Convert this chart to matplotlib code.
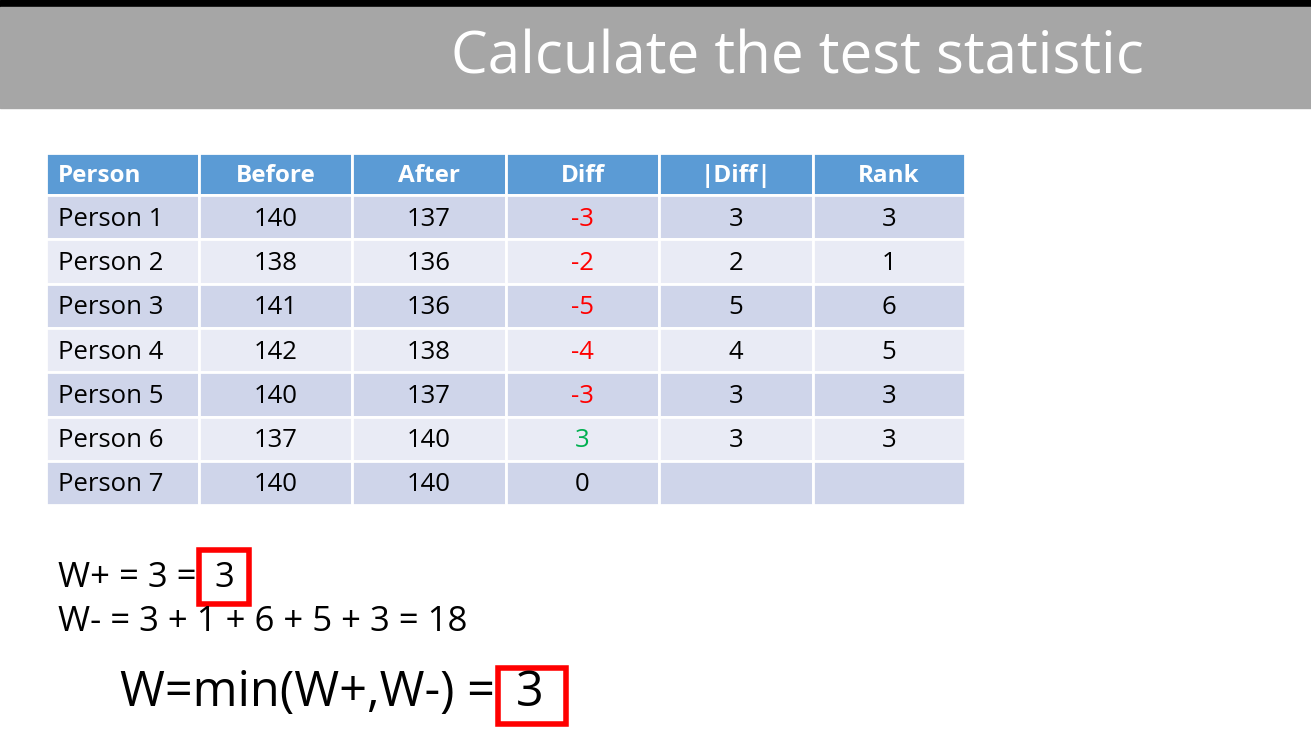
import matplotlib
matplotlib.use("Agg")
import matplotlib.pyplot as plt
from matplotlib.patches import Rectangle

headers = ["Person", "Before", "After", "Diff", "|Diff|", "Rank"]
persons = ["Person 1", "Person 2", "Person 3", "Person 4", "Person 5", "Person 6", "Person 7"]
before = [140, 138, 141, 142, 140, 137, 140]
after = [137, 136, 136, 138, 137, 140, 140]
diff = [-3, -2, -5, -4, -3, 3, 0]
absdiff = ["3", "2", "5", "4", "3", "3", ""]
rank = ["3", "1", "6", "5", "3", "3", ""]
title = "Calculate the test statistic"
line1 = "W+ = 3 ="
line2 = "W- = 3 + 1 + 6 + 5 + 3 = 18"
line3 = "W=min(W+,W-) ="
boxed = "3"

plt.rcParams['font.family'] = ['Open Sans', 'DejaVu Sans']
fig = plt.figure(figsize=(13.11, 7.33), dpi=100)
ax = fig.add_axes([0, 0, 1, 1])
ax.set_xlim(0, 1311); ax.set_ylim(733, 0); ax.axis('off')

ax.add_patch(Rectangle((0, 0), 1311, 7, color='black'))
ax.add_patch(Rectangle((0, 7), 1311, 101, color='#A6A6A6'))
ax.text(797, 58, title, color='white', fontsize=42, ha='center', va='center')

xs = [46, 199, 352, 506, 659, 813, 965]
y0, hh, rh = 153, 42, 44.3
for j, h in enumerate(headers):
    ax.add_patch(Rectangle((xs[j], y0), xs[j+1]-xs[j], hh, facecolor='#5B9BD5', edgecolor='white', lw=2))
    x = xs[j] + 12 if j == 0 else (xs[j]+xs[j+1])/2
    ax.text(x, y0+hh/2+2, h, color='white', fontsize=17.5, fontweight='bold',
            ha='left' if j == 0 else 'center', va='center')
for i in range(len(persons)):
    yt = y0 + hh + i*rh
    fc = '#CFD5EA' if i % 2 == 0 else '#E9EBF5'
    d = diff[i]
    dcol = 'red' if d < 0 else ('#00B050' if d > 0 else 'black')
    vals = [persons[i], str(before[i]), str(after[i]), str(d), absdiff[i], rank[i]]
    cols = ['black', 'black', 'black', dcol, 'black', 'black']
    for j in range(6):
        ax.add_patch(Rectangle((xs[j], yt), xs[j+1]-xs[j], rh, facecolor=fc, edgecolor='white', lw=2))
        x = xs[j] + 12 if j == 0 else (xs[j]+xs[j+1])/2
        ax.text(x, yt+rh/2+2, vals[j], color=cols[j], fontsize=18.5,
                ha='left' if j == 0 else 'center', va='center')

ax.text(58, 578, line1, fontsize=25, va='center', ha='left')
ax.text(224, 578, boxed, fontsize=25, va='center', ha='center')
ax.text(58, 622, line2, fontsize=25, va='center', ha='left')
ax.text(120, 693, line3, fontsize=35, va='center', ha='left')
ax.text(530, 693, boxed, fontsize=35, va='center', ha='center')
ax.add_patch(Rectangle((199, 550), 50, 54, fill=False, edgecolor='red', lw=4))
ax.add_patch(Rectangle((498, 668), 68, 56, fill=False, edgecolor='red', lw=4))

fig.savefig("out.png", dpi=100)
